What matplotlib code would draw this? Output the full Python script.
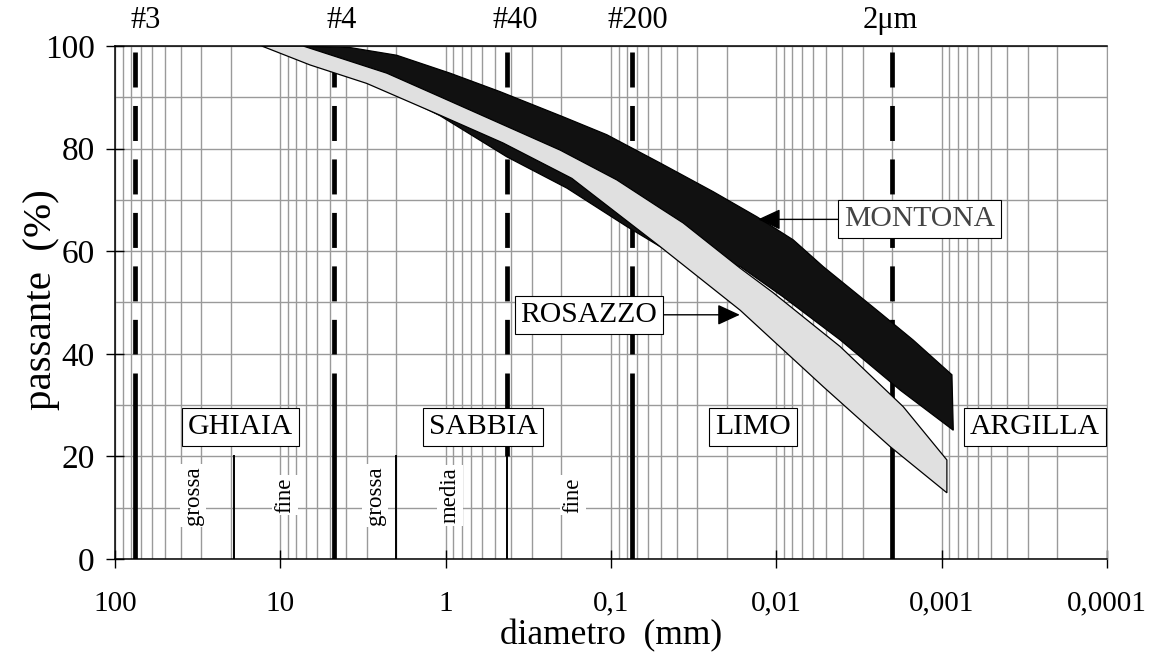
import numpy as np
import matplotlib
matplotlib.use('Agg')
import matplotlib.pyplot as plt
import matplotlib.transforms as mtransforms
from matplotlib.ticker import LogLocator, MultipleLocator, NullFormatter

plt.rcParams['font.family'] = ['Liberation Serif', 'DejaVu Serif']
plt.rcParams['lines.scale_dashes'] = False

# MONTONA band: upper and lower envelope (diametro mm, passante %)
montona_top_d = [8.53, 3.79, 1.98, 0.94, 0.469, 0.195, 0.106, 0.0505, 0.0241,
                 0.0131, 0.0079, 0.00521, 0.00236, 0.00149, 0.000867]
montona_top_p = [100, 99.7, 98.2, 94.7, 91.1, 86.2, 82.7, 77.2, 71.6,
                 66.7, 62.2, 57.0, 48.0, 42.7, 35.9]
montona_bot_d = [0.000851, 0.00178, 0.00411, 0.0091, 0.01656, 0.0505, 0.0802,
                 0.185, 0.427, 1.08, 3.0, 6.61]
montona_bot_p = [25.1, 32.9, 42.7, 51.1, 57.0, 60.9, 64.8,
                 72.3, 78.4, 86.4, 93.5, 97.0]

# ROSAZZO band
rosazzo_top_d = [12.97, 7.29, 2.27, 1.08, 0.203, 0.0923, 0.0505, 0.0366,
                 0.01656, 0.01045, 0.00411, 0.00171, 0.00093]
rosazzo_top_p = [100, 100, 94.7, 90.1, 79.7, 73.9, 68.4, 65.5,
                 56.7, 51.9, 41.4, 29.7, 19.3]
rosazzo_bot_d = [0.00093, 0.00205, 0.00521, 0.01656, 0.0505, 0.1726, 0.45,
                 1.08, 3.0, 6.61]
rosazzo_bot_p = [12.9, 21.9, 33.6, 48.5, 60.9, 74.2, 81.1,
                 86.5, 92.7, 96.3]

# sieves
sieve_names = ['#3', '#4', '#40', '#200', '2\u03bcm']
sieve_d = [76.2, 4.75, 0.425, 0.075, 0.002]
sieve_label_d = [64.9, 4.24, 0.38, 0.0686, 0.00204]
sieve_solid_end = [0, 0, 20, 0, 0]

# sub-class boundaries (0-20 %)
divider_d = [19.0, 2.0, 0.425]

sub_names = ['grossa', 'fine', 'grossa', 'media', 'fine']
sub_d = [33.7, 9.37, 2.67, 0.94, 0.17]

class_names = ['GHIAIA', 'SABBIA', 'LIMO', 'ARGILLA']
class_d = [17.5, 0.594, 0.0138, 0.000272]

xtick_vals = [100, 10, 1, 0.1, 0.01, 0.001, 0.0001]
xtick_labels = ['100', '10', '1', '0,1', '0,01', '0,001', '0,0001']
ytick_vals = [0, 20, 40, 60, 80, 100]

fig, ax = plt.subplots(figsize=(11.57, 6.57), dpi=100)
fig.subplots_adjust(left=0.0994, right=0.9568, bottom=0.1492, top=0.930)

ax.set_xscale('log')
ax.set_xlim(100, 1e-4)
ax.set_ylim(0, 100)

ax.set_xticks(xtick_vals)
ax.set_xticklabels(xtick_labels)
ax.xaxis.set_minor_locator(LogLocator(base=10, subs=np.arange(2, 10), numticks=100))
ax.xaxis.set_minor_formatter(NullFormatter())
ax.set_yticks(ytick_vals)
ax.yaxis.set_minor_locator(MultipleLocator(10))

ax.tick_params(which='major', direction='inout', length=13.5, width=1.0)
ax.tick_params(axis='x', which='major', pad=16, labelsize=21)
ax.tick_params(axis='y', which='major', pad=8, labelsize=24)
ax.tick_params(which='minor', length=0)

ax.set_axisbelow(True)
ax.grid(which='both', color='#9a9a9a', lw=1.0)
for s in ['left', 'bottom', 'top']:
    ax.spines[s].set_linewidth(1.1)
ax.spines['right'].set_color('#9a9a9a')

# sieve lines: dashed above, solid below
for d, end in zip(sieve_d, sieve_solid_end):
    ax.plot([d, d], [98.83, 39.86], color='black', lw=3.4,
            linestyle=(0, (25.2, 13.3)), dash_capstyle='butt', zorder=1.5)
    ax.plot([d, d], [36.26, end], color='black', lw=3.4,
            solid_capstyle='butt', zorder=1.5)

for d in divider_d:
    ax.plot([d, d], [20, 0], color='black', lw=1.4, zorder=1.5)

# bands
ax.fill(montona_top_d + montona_bot_d, montona_top_p + montona_bot_p,
        fc='#111111', ec='black', lw=0.9, zorder=2)
ax.fill(rosazzo_top_d + rosazzo_bot_d, rosazzo_top_p + rosazzo_bot_p,
        fc='#e0e0e0', ec='black', lw=0.9, zorder=2.1)

# labels on top
trans = mtransforms.blended_transform_factory(ax.transData, ax.transAxes)
for name, d in zip(sieve_names, sieve_label_d):
    ax.text(d, 1.05, name, transform=trans, ha='center', va='center',
            fontsize=22)

for name, d in zip(sub_names, sub_d):
    ax.text(d, 12.4, name, rotation=90, ha='center', va='center', fontsize=16.5,
            bbox=dict(boxstyle='square,pad=0.1', fc='white', ec='none'), zorder=3)

for name, d in zip(class_names, class_d):
    ax.text(d, 25.7, name, ha='center', va='center', fontsize=21.3,
            bbox=dict(boxstyle='square,pad=0.2', fc='white', ec='black', lw=0.8),
            zorder=3)

ax.annotate('MONTONA', xy=(0.0129, 66.2), xytext=(0.00136, 66.2),
            ha='center', va='center', fontsize=21.3, color='#444444', zorder=3,
            bbox=dict(boxstyle='square,pad=0.2', fc='white', ec='black', lw=0.8),
            arrowprops=dict(arrowstyle='-|>,head_length=0.65,head_width=0.3',
                            color='black', lw=1.0, shrinkA=0, shrinkB=0))
ax.annotate('ROSAZZO', xy=(0.01664, 47.6), xytext=(0.136, 47.6),
            ha='center', va='center', fontsize=21.3, color='black', zorder=3,
            bbox=dict(boxstyle='square,pad=0.2', fc='white', ec='black', lw=0.8),
            arrowprops=dict(arrowstyle='-|>,head_length=0.65,head_width=0.3',
                            color='black', lw=1.0, shrinkA=0, shrinkB=0))

ax.text(-0.0746, 0.505, 'passante  (%)', transform=ax.transAxes, rotation=90,
        ha='center', va='center', fontsize=29.5)
ax.text(0.5, -0.150, 'diametro  (mm)', transform=ax.transAxes,
        ha='center', va='center', fontsize=25.5)

fig.savefig('out.png', dpi=100)
